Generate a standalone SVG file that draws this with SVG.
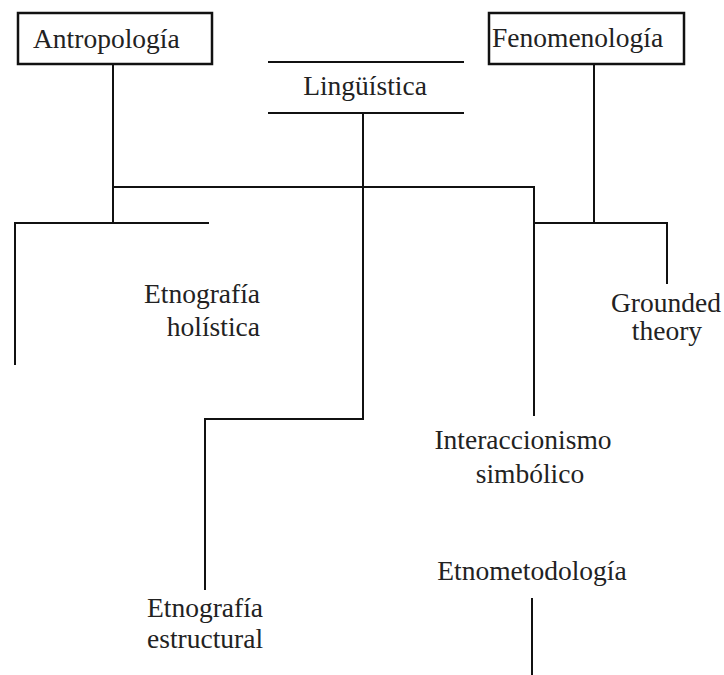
<svg xmlns="http://www.w3.org/2000/svg" width="724" height="675" viewBox="0 0 724 675">
<style>
text{font-family:"Liberation Serif","Times New Roman",serif;font-size:27.5px;fill:#222}
.box{fill:#fff;stroke:#111;stroke-width:2.5}
.ln{fill:none;stroke:#111;stroke-width:2}
.m{text-anchor:middle}
.e{text-anchor:end}
</style>
<rect width="724" height="675" fill="#fff"/>
<g id="connectors">
<path class="ln" d="M113,64V223"/>
<path class="ln" d="M113,187H534V416"/>
<path class="ln" d="M15,365V223H209"/>
<path class="ln" d="M363,113V419H205V590"/>
<path class="ln" d="M594,64V223"/>
<path class="ln" d="M534,223H667V284"/>
<path class="ln" d="M532,598V675"/>
</g>
<g id="antropologia">
<rect class="box" x="18" y="13" width="194" height="51"/>
<text x="33" y="48">Antropología</text>
</g>
<g id="linguistica">
<path class="ln" d="M268,62H464M268,113H464"/>
<text class="m" x="365" y="95">Lingüística</text>
</g>
<g id="fenomenologia">
<rect class="box" x="489" y="13" width="195" height="51"/>
<text x="492" y="47">Fenomenología</text>
</g>
<g id="etnografia-holistica">
<text class="e" x="260" y="303">Etnografía</text>
<text class="e" x="260" y="336">holística</text>
</g>
<g id="grounded-theory">
<text class="m" x="666" y="312">Grounded</text>
<text class="m" x="667" y="340">theory</text>
</g>
<g id="interaccionismo">
<text class="m" x="523" y="449">Interaccionismo</text>
<text class="m" x="530" y="483">simbólico</text>
</g>
<g id="etnometodologia">
<text class="m" x="532" y="580">Etnometodología</text>
</g>
<g id="etnografia-estructural">
<text class="m" x="205" y="617">Etnografía</text>
<text class="m" x="205" y="648">estructural</text>
</g>
</svg>
